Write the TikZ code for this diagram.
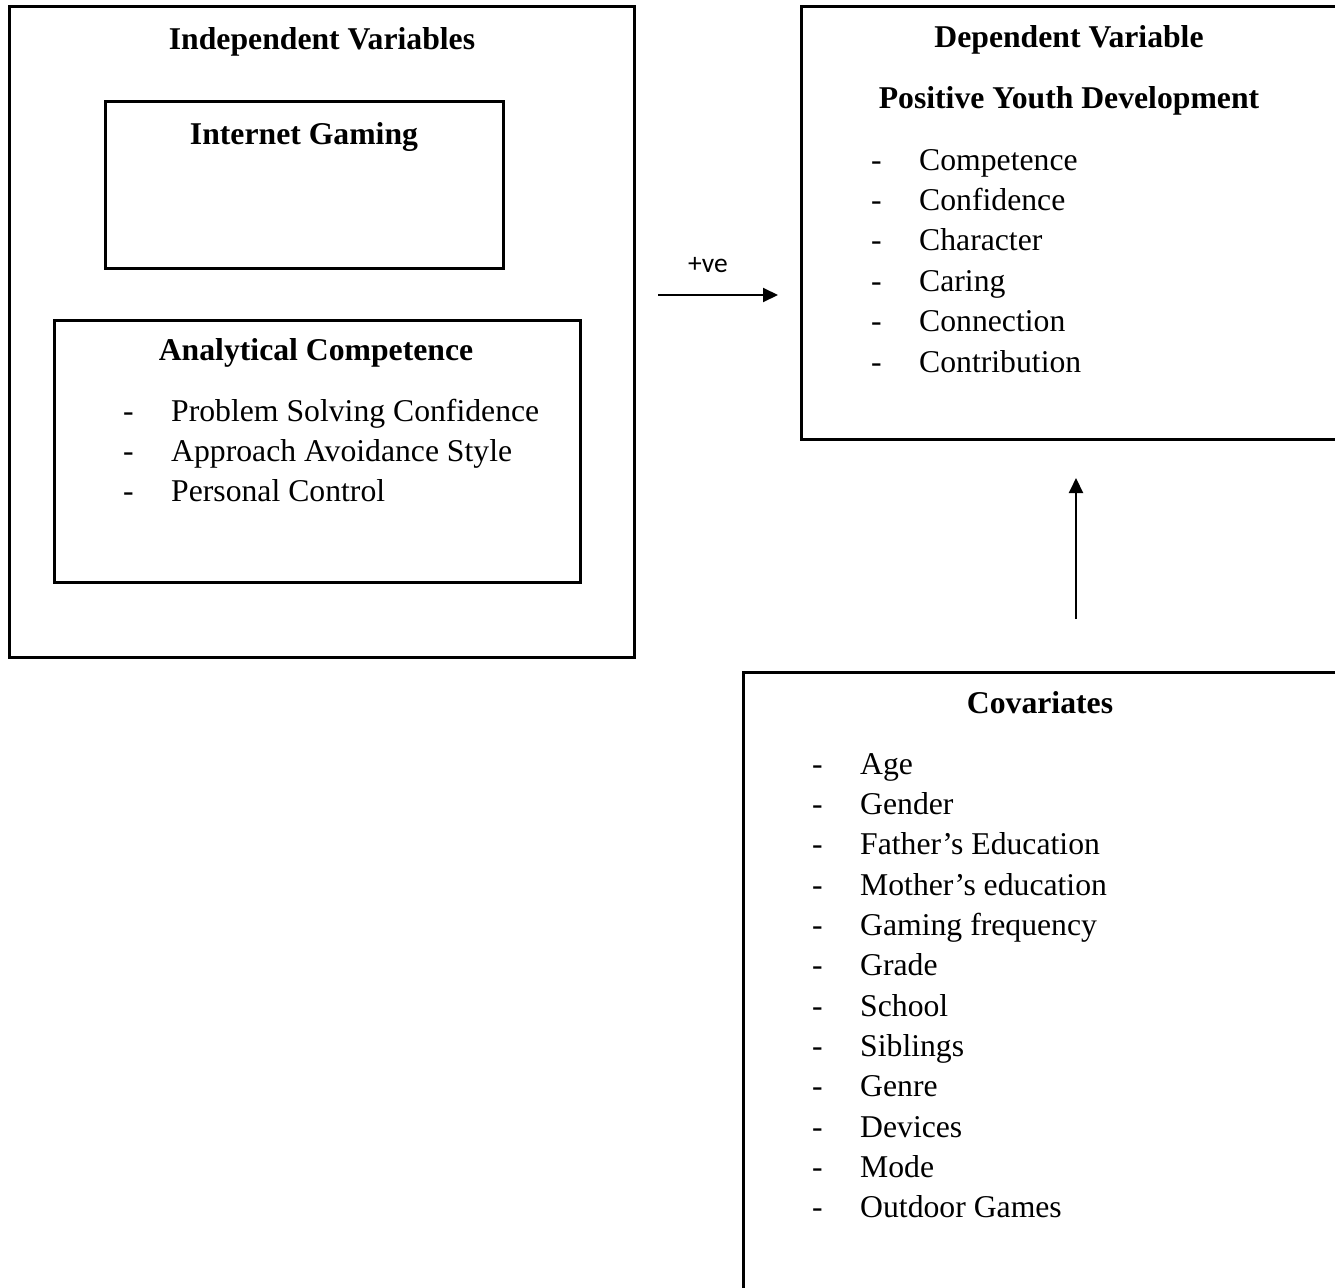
\documentclass[tikz,border=0pt]{standalone}
\usepackage{fontspec}
\setmainfont{Liberation Serif}
\newfontfamily\calfont{Carlito}
\usetikzlibrary{arrows.meta}
\begin{document}
\begin{tikzpicture}[x=1pt,y=-1pt,
  box/.style={draw,line width=3pt,rectangle,inner sep=0pt},
  ttl/.style={anchor=base,font=\fontsize{31.7}{40}\selectfont\bfseries,inner sep=0pt},
  itm/.style={anchor=base west,font=\fontsize{31.7}{40}\selectfont,inner sep=0pt},
  lbl/.style={anchor=base,font=\calfont\fontsize{27.5}{32}\selectfont,inner sep=0pt},
  arr/.style={line width=2pt,-{Triangle[length=15pt,width=14pt]}}]
\path[use as bounding box,clip] (0,0) rectangle (1335,1287);
% boxes
\node[box,minimum width=625pt,minimum height=650pt] (iv) at (321.5,332) {};
\node[box,minimum width=398pt,minimum height=166pt] (ig) at (304,185) {};
\node[box,minimum width=526pt,minimum height=262pt] (ac) at (317,451) {};
\node[box,minimum width=535pt,minimum height=432pt] (dv) at (1068.5,223) {};
\node[box,minimum width=593pt,minimum height=628pt] (cov) at (1039.5,986) {};
% titles
\node[ttl] (tiv) at (322,50) {Independent Variables};
\node[ttl] (tig) at (304,144) {Internet Gaming};
\node[ttl] (tac) at (316,360) {Analytical Competence};
\node[ttl] (tdv) at (1069,48) {Dependent Variable};
\node[ttl] (tpyd) at (1069,109) {Positive Youth Development};
\node[ttl] (tcov) at (1040,713) {Covariates};
% analytical competence items
\foreach \t [count=\i] in {Problem Solving Confidence,Approach Avoidance Style,Personal Control}{
  \node[itm] (acd\i) at (123,{421+40.4*(\i-1)}) {-};
  \node[itm] (act\i) at (171,{421+40.4*(\i-1)}) {\t};
}
% dependent items
\foreach \t [count=\i] in {Competence,Confidence,Character,Caring,Connection,Contribution}{
  \node[itm] (dvd\i) at (871,{170+40.4*(\i-1)}) {-};
  \node[itm] (dvt\i) at (919,{170+40.4*(\i-1)}) {\t};
}
% covariates items
\foreach \t [count=\i] in {Age,Gender,Father’s Education,Mother’s education,Gaming frequency,Grade,School,Siblings,Genre,Devices,Mode,Outdoor Games}{
  \node[itm] (cvd\i) at (812,{774+40.36*(\i-1)}) {-};
  \node[itm] (cvt\i) at (860,{774+40.36*(\i-1)}) {\t};
}
% connectors
\coordinate (a1) at (658,295);
\coordinate (a2) at (778,295);
\node[lbl] (pve) at (708,272) {+ve};
\draw[arr] (a1) -- (a2);
\coordinate (b1) at (1076,619);
\coordinate (b2) at (1076,478);
\draw[arr] (b1) -- (b2);
\end{tikzpicture}
\end{document}
